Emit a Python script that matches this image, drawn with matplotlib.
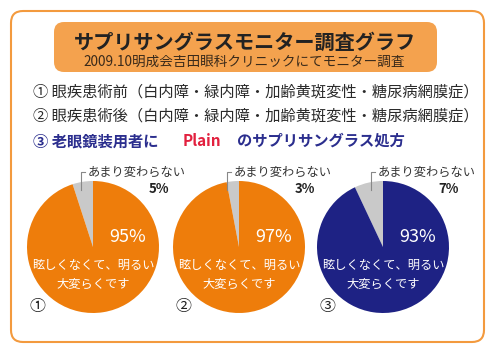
import matplotlib.pyplot as plt
from matplotlib.patches import FancyBboxPatch

plt.rcParams['font.family'] = ['Noto Sans CJK JP', 'DejaVu Sans']

# data
labels_no = ['①', '②', '③']
pct_good = [95, 97, 93]
pct_same = [5, 3, 7]
pie_colors = ['#EE7D0B', '#EE7D0B', '#1E2284']
gray = '#C9C9C9'
good_label = '眩しくなくて、明るい\n大変らくです'
same_label = 'あまり変わらない'
title = 'サプリサングラスモニター調査グラフ'
subtitle = '2009.10明成会吉田眼科クリニックにてモニター調査'
line1 = '① 眼疾患術前（白内障・緑内障・加齢黄斑変性・糖尿病網膜症）'
line2 = '② 眼疾患術後（白内障・緑内障・加齢黄斑変性・糖尿病網膜症）'

W, H = 495, 355
fig = plt.figure(figsize=(W / 100, H / 100), dpi=100)
ax = fig.add_axes([0, 0, 1, 1])
ax.set_xlim(0, W)
ax.set_ylim(0, H)
ax.axis('off')

def Y(y):
    return H - y

# outer frame and title box
ax.add_patch(FancyBboxPatch((11, Y(342)), 473, 331, boxstyle='round,pad=0,rounding_size=12',
                            fc='white', ec='#F39A3E', lw=1.5))
ax.add_patch(FancyBboxPatch((54, Y(72)), 383, 50, boxstyle='round,pad=0,rounding_size=10',
                            fc='#F4A24E', ec='none'))
ax.text(245, Y(42), title, ha='center', va='center', fontsize=14.5, fontweight='bold', color='#222222')
ax.text(244, Y(62), subtitle, ha='center', va='center', fontsize=9.8, color='#3A2A1A')

ax.text(33, Y(92), line1, ha='left', va='center', fontsize=11, color='#2A2A2A')
ax.text(33, Y(116), line2, ha='left', va='center', fontsize=11, color='#2A2A2A')
blue = '#2B2E8E'
ax.text(33, Y(141), '③ 老眼鏡装用者に', ha='left', va='center', fontsize=11, fontweight='bold', color=blue)
ax.text(183, Y(141), 'Plain', ha='left', va='center', fontsize=11, fontweight='bold', color='#E2203E')
ax.text(237, Y(141), 'のサプリサングラス処方', ha='left', va='center', fontsize=11, fontweight='bold', color=blue)

centers = [93, 239, 383]
cy = 247
r = 66
for i, cx in enumerate(centers):
    ax.pie([pct_same[i], pct_good[i]], colors=[gray, pie_colors[i]], startangle=90,
           counterclock=True, center=(cx, Y(cy)), radius=r, frame=True,
           wedgeprops=dict(linewidth=0))
    # leader line to label
    lx = cx - 12
    ax.plot([lx, lx, lx + 4], [Y(190), Y(172), Y(172)], color='#888888', lw=0.8)
    ax.text(lx + 7, Y(172), same_label, ha='left', va='center', fontsize=8.8, color='#333333')
    ax.text(cx + 66, Y(189), f'{pct_same[i]}%', ha='center', va='center', fontsize=9.5,
            fontweight='bold', color='#222222')
    ax.text(cx + 35, Y(237), f'{pct_good[i]}%', ha='center', va='center', fontsize=13, color='white')
    ax.text(cx, Y(275), good_label, ha='center', va='center', fontsize=8.8, color='white',
            linespacing=1.6)
    ax.text(cx - 55, Y(306), labels_no[i], ha='center', va='center', fontsize=11.5, color='#222222')

ax.set_xlim(0, W)
ax.set_ylim(0, H)
ax.set_aspect('auto')
fig.savefig('out.png', dpi=100)
